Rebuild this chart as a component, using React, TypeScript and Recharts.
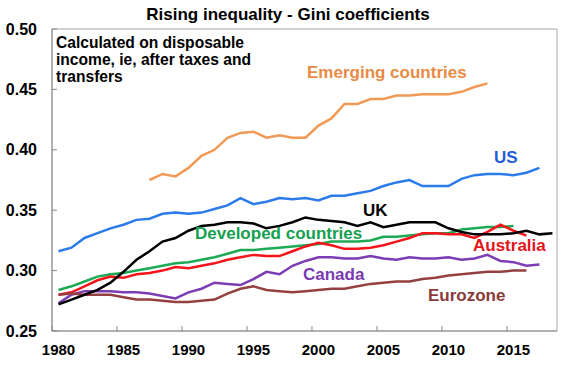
import { LineChart, Line, XAxis, YAxis, ReferenceArea } from "recharts";

// ---------------------------------------------------------------------------
// Data (Gini coefficients)
// ---------------------------------------------------------------------------
const years = [
  1980, 1981, 1982, 1983, 1984, 1985, 1986, 1987, 1988, 1989,
  1990, 1991, 1992, 1993, 1994, 1995, 1996, 1997, 1998, 1999,
  2000, 2001, 2002, 2003, 2004, 2005, 2006, 2007, 2008, 2009,
  2010, 2011, 2012, 2013, 2014, 2015, 2016, 2017, 2018,
];

// starts 1987
const emerging = [
  0.375, 0.38, 0.378, 0.385, 0.395, 0.4, 0.41, 0.414, 0.415, 0.41,
  0.412, 0.41, 0.41, 0.42, 0.426, 0.438, 0.438, 0.442, 0.442, 0.445,
  0.445, 0.446, 0.446, 0.446, 0.448, 0.452, 0.455,
];

// 1980 - 2017
const us = [
  0.316, 0.319, 0.327, 0.331, 0.335, 0.338, 0.342, 0.343, 0.347, 0.348,
  0.347, 0.348, 0.351, 0.354, 0.36, 0.355, 0.357, 0.36, 0.359, 0.36,
  0.358, 0.362, 0.362, 0.364, 0.366, 0.37, 0.373, 0.375, 0.37, 0.37,
  0.37, 0.376, 0.379, 0.38, 0.38, 0.379, 0.381, 0.385,
];

// 1980 - 2018
const uk = [
  0.272, 0.276, 0.28, 0.284, 0.29, 0.299, 0.309, 0.316, 0.324, 0.327,
  0.333, 0.337, 0.338, 0.34, 0.34, 0.339, 0.335, 0.337, 0.34, 0.344,
  0.342, 0.341, 0.34, 0.337, 0.34, 0.336, 0.338, 0.34, 0.34, 0.34,
  0.335, 0.332, 0.33, 0.33, 0.33, 0.331, 0.333, 0.33, 0.331,
];

// 1980 - 2015
const developed = [
  0.284, 0.287, 0.291, 0.295, 0.297, 0.298, 0.3, 0.302, 0.304, 0.306,
  0.307, 0.309, 0.311, 0.314, 0.317, 0.317, 0.318, 0.319, 0.32, 0.321,
  0.322, 0.324, 0.324, 0.324, 0.325, 0.328, 0.328, 0.329, 0.33, 0.331,
  0.331, 0.334, 0.335, 0.336, 0.336, 0.337,
];

// 1980 - 2016
const australia = [
  0.28, 0.282, 0.287, 0.292, 0.295, 0.294, 0.297, 0.298, 0.3, 0.303,
  0.302, 0.304, 0.306, 0.309, 0.311, 0.313, 0.312, 0.312, 0.316, 0.32,
  0.323, 0.321, 0.318, 0.318, 0.319, 0.321, 0.324, 0.327, 0.331, 0.331,
  0.33, 0.33, 0.327, 0.332, 0.338, 0.333, 0.329,
];

// 1980 - 2017
const canada = [
  0.273, 0.28, 0.283, 0.283, 0.283, 0.282, 0.282, 0.281, 0.279, 0.277,
  0.282, 0.285, 0.29, 0.289, 0.288, 0.293, 0.299, 0.297, 0.304, 0.308,
  0.311, 0.311, 0.31, 0.31, 0.312, 0.31, 0.309, 0.311, 0.31, 0.31,
  0.311, 0.309, 0.31, 0.313, 0.308, 0.307, 0.304, 0.305,
];

// 1980 - 2016
const eurozone = [
  0.28, 0.281, 0.28, 0.28, 0.28, 0.278, 0.276, 0.276, 0.275, 0.274,
  0.274, 0.275, 0.276, 0.281, 0.285, 0.287, 0.284, 0.283, 0.282, 0.283,
  0.284, 0.285, 0.285, 0.287, 0.289, 0.29, 0.291, 0.291, 0.293, 0.294,
  0.296, 0.297, 0.298, 0.299, 0.299, 0.3, 0.3,
];

const xTicks = [1980, 1985, 1990, 1995, 2000, 2005, 2010, 2015];
const yTicks = [0.25, 0.3, 0.35, 0.4, 0.45, 0.5];

const series = [
  { key: "emerging", values: emerging, start: 1987, color: "#F29A55" },
  { key: "us", values: us, start: 1980, color: "#2B7BEA" },
  { key: "developed", values: developed, start: 1980, color: "#1DAA55" },
  { key: "australia", values: australia, start: 1980, color: "#F5141A" },
  { key: "canada", values: canada, start: 1980, color: "#7B3CB4" },
  { key: "eurozone", values: eurozone, start: 1980, color: "#954040" },
  { key: "uk", values: uk, start: 1980, color: "#000000" },
];

const rows = years.map((year) => {
  const row: Record<string, number | null> = { year };
  series.forEach((s) => {
    const i = year - s.start;
    row[s.key] = i >= 0 && i < s.values.length ? s.values[i] : null;
  });
  return row;
});

// ---------------------------------------------------------------------------
// Ticks
// ---------------------------------------------------------------------------
const FONT = "'Liberation Sans', Arial, sans-serif";

function YearTick(props: { x?: number; y?: number; payload?: { value: number } }) {
  const { x = 0, y = 0, payload } = props;
  return (
    <g>
      <line x1={x - 6.5} x2={x - 6.5} y1={y} y2={y - 5} stroke="#888" />
      <text x={x} y={y + 24} textAnchor="middle" fontFamily={FONT} fontWeight="bold" fontSize={15} fill="#000">
        {payload?.value}
      </text>
    </g>
  );
}

function GiniTick(props: { x?: number; y?: number; payload?: { value: number } }) {
  const { x = 0, y = 0, payload } = props;
  return (
    <g>
      <line x1={x} x2={x + 5} y1={y} y2={y} stroke="#888" />
      <text x={x - 15} y={y + 5.5} textAnchor="end" fontFamily={FONT} fontWeight="bold" fontSize={16} fill="#000">
        {(payload?.value ?? 0).toFixed(2)}
      </text>
    </g>
  );
}

// ---------------------------------------------------------------------------
// Labels placed over the chart
// ---------------------------------------------------------------------------
const labels = [
  { text: "Emerging countries", left: 307, cy: 73, color: "#E98A45" },
  { text: "US", left: 494, cy: 158, color: "#1F60D6" },
  { text: "UK", left: 363, cy: 211, color: "#000000" },
  { text: "Developed countries", left: 195, cy: 234, color: "#14A04E" },
  { text: "Australia", left: 473, cy: 246, color: "#E4161B" },
  { text: "Canada", left: 303, cy: 275, color: "#7A3BB0" },
  { text: "Eurozone", left: 428, cy: 296, color: "#8A3A3A" },
];

export default function App() {
  return (
    <div style={{ position: "absolute", left: 0, top: 0, width: 570, height: 365, background: "#fff", fontFamily: FONT }}>
      <LineChart width={570} height={365} data={rows} margin={{ top: 29, right: 13, bottom: 0, left: 0 }}>
        <ReferenceArea x1={1979.5} x2={2018.35} y1={0.25} y2={0.5} fill="none" stroke="#A6A6A6" strokeWidth={1} />
        <XAxis
          dataKey="year"
          type="number"
          domain={[1979.5, 2018.35]}
          ticks={xTicks}
          allowDataOverflow
          height={34}
          tickSize={0}
          tickMargin={0}
          axisLine={{ stroke: "#8C8C8C" }}
          tick={YearTick as never}
          interval={0}
        />
        <YAxis
          type="number"
          domain={[0.25, 0.5]}
          ticks={yTicks}
          width={52}
          tickSize={0}
          tickMargin={0}
          axisLine={{ stroke: "#8C8C8C" }}
          tick={GiniTick as never}
          interval={0}
        />
        {series.map((s) => (
          <Line
            key={s.key}
            dataKey={s.key}
            stroke={s.color}
            strokeWidth={2.5}
            dot={false}
            type="linear"
            isAnimationActive={false}
          />
        ))}
      </LineChart>

      {/* Title */}
      <div style={{ position: "absolute", left: 188, width: 200, top: 5, textAlign: "center", fontSize: 17, fontWeight: "bold", lineHeight: "20px", whiteSpace: "nowrap", display: "flex", justifyContent: "center" }}>
        Rising inequality - Gini coefficients
      </div>

      {/* Note */}
      <div style={{ position: "absolute", left: 56, top: 34, fontSize: 15.6, fontWeight: "bold", lineHeight: "17px", whiteSpace: "nowrap" }}>
        Calculated on disposable
        <br />
        income, ie, after taxes and
        <br />
        transfers
      </div>

      {/* Series labels */}
      {labels.map((l) => (
        <div
          key={l.text}
          style={{
            position: "absolute",
            left: l.left,
            top: l.cy - 8,
            lineHeight: "16px",
            fontSize: 17,
            fontWeight: "bold",
            color: l.color,
            whiteSpace: "nowrap",
          }}
        >
          {l.text}
        </div>
      ))}
    </div>
  );
}
